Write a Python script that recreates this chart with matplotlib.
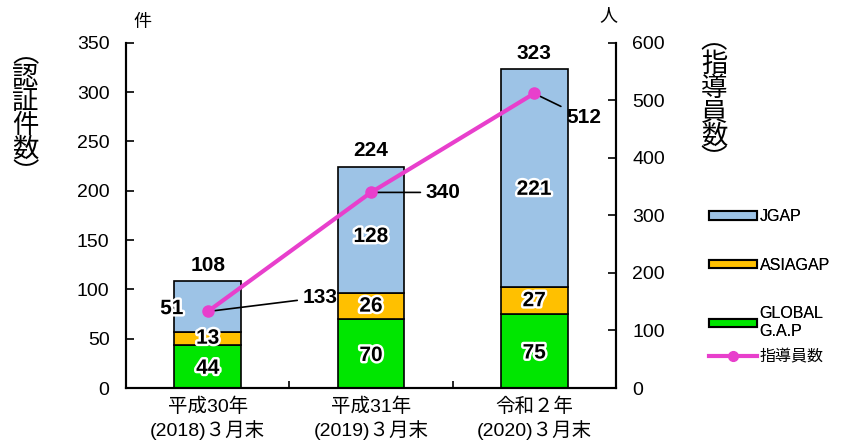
import numpy as np
import matplotlib
matplotlib.use("Agg")
import matplotlib.pyplot as plt
import matplotlib.patheffects as pe
from matplotlib.patches import Patch
from matplotlib.lines import Line2D

plt.rcParams['font.family'] = ['Liberation Sans', 'Noto Sans CJK JP', 'DejaVu Sans']

# データ
categories = ["平成30年\n(2018)３月末", "平成31年\n(2019)３月末", "令和２年\n(2020)３月末"]
globalgap = [44, 70, 75]
asiagap = [13, 26, 27]
jgap = [51, 128, 221]
totals = [108, 224, 323]
instructors = [133, 340, 512]

c_jgap = "#9dc3e6"
c_asia = "#ffc000"
c_glob = "#00e600"
c_line = "#e83fcc"

fig = plt.figure(figsize=(8.47, 4.46), dpi=100)
ax = fig.add_axes([0.149, 0.130, 0.578, 0.774])
ax2 = ax.twinx()

x = np.arange(len(categories))
w = 0.41
halo = [pe.withStroke(linewidth=3.5, foreground="white")]
vfs = 15

ax.bar(x, globalgap, w, color=c_glob, edgecolor="black", linewidth=1.2, zorder=2)
b2 = np.array(globalgap)
ax.bar(x, asiagap, w, bottom=b2, color=c_asia, edgecolor="black", linewidth=1.2, zorder=2)
b3 = b2 + np.array(asiagap)
ax.bar(x, jgap, w, bottom=b3, color=c_jgap, edgecolor="black", linewidth=1.2, zorder=2)

for i in range(len(x)):
    ax.text(x[i], globalgap[i] / 2 - 2, str(globalgap[i]), ha="center", va="center",
            fontsize=vfs, fontweight="bold", path_effects=halo, zorder=5)
    ax.text(x[i], b2[i] + asiagap[i] / 2, str(asiagap[i]), ha="center", va="center",
            fontsize=vfs, fontweight="bold", path_effects=halo, zorder=5)
    xj = x[i] - 0.22 if i == 0 else x[i]
    yj = b3[i] + jgap[i] / 2 - 2 if i == 0 else b3[i] + jgap[i] * 0.45
    ax.text(xj, yj, str(jgap[i]), ha="center", va="center",
            fontsize=vfs, fontweight="bold", path_effects=halo, zorder=5)
    ax.text(x[i], totals[i] + 7, str(totals[i]), ha="center", va="bottom",
            fontsize=vfs, fontweight="bold")

ax2.plot(x, instructors, color=c_line, linewidth=3, marker="o", markersize=8,
         markerfacecolor=c_line, zorder=4)

offsets = [(95, 14), (55, 0), (32, -24)]
for i, v in enumerate(instructors):
    ax2.annotate(str(v), xy=(x[i], v), xytext=offsets[i], textcoords="offset pixels",
                 ha="left", va="center", fontsize=vfs, fontweight="bold",
                 arrowprops=dict(arrowstyle="-", color="black", lw=1.2,
                                 shrinkA=2, shrinkB=1))

ax.set_xlim(-0.5, 2.5)
ax.set_ylim(0, 350)
ax2.set_ylim(0, 600)
ax.set_yticks(np.arange(0, 351, 50))
ax2.set_yticks(np.arange(0, 601, 100))
ax.set_xticks(x)
ax.set_xticklabels(categories, fontsize=14, linespacing=1.25)
ax.set_xticks([0.5, 1.5], minor=True)
ax.tick_params(axis="x", which="major", length=0, pad=7)
ax.tick_params(axis="x", which="minor", direction="in", length=5, width=1.2)
ax.tick_params(axis="y", direction="in", length=6, width=1.2, labelsize=14, pad=12)
ax2.tick_params(axis="y", direction="in", length=6, width=1.2, labelsize=14, pad=12)

for a in (ax, ax2):
    a.spines["top"].set_visible(False)
    for s in ("left", "right", "bottom"):
        a.spines[s].set_linewidth(1.5)

fig.text(0.168, 0.950, "件", ha="center", va="center", fontsize=13)
fig.text(0.718, 0.965, "人", ha="center", va="center", fontsize=13)
fig.text(0.030, 0.745, "︵\n認\n証\n件\n数\n︶", ha="center", va="center",
         fontsize=19, linespacing=0.85, family=["Noto Sans CJK JP"])
fig.text(0.843, 0.775, "︵\n指\n導\n員\n数\n︶", ha="center", va="center",
         fontsize=19, linespacing=0.85, family=["Noto Sans CJK JP"])

bar_handles = [Patch(facecolor=c_jgap, edgecolor="black", linewidth=1.5),
               Patch(facecolor=c_asia, edgecolor="black", linewidth=1.5),
               Patch(facecolor=c_glob, edgecolor="black", linewidth=1.5)]
bar_labels = ["JGAP", "ASIAGAP", "GLOBAL\nG.A.P"]
leg1 = fig.legend(bar_handles, bar_labels, loc="upper left", bbox_to_anchor=(0.830, 0.545),
                  frameon=False, fontsize=11.5, handlelength=3.0, handleheight=0.45,
                  handletextpad=0.15, labelspacing=2.1, borderaxespad=0)
leg2 = fig.legend([Line2D([0], [0], color=c_line, linewidth=3, marker="o", markersize=7)],
                  ["指導員数"], loc="center left", bbox_to_anchor=(0.830, 0.200),
                  frameon=False, fontsize=11.5, handlelength=3.0,
                  handletextpad=0.15, borderaxespad=0)
fig.add_artist(leg1)

fig.savefig("out.png", dpi=100)
